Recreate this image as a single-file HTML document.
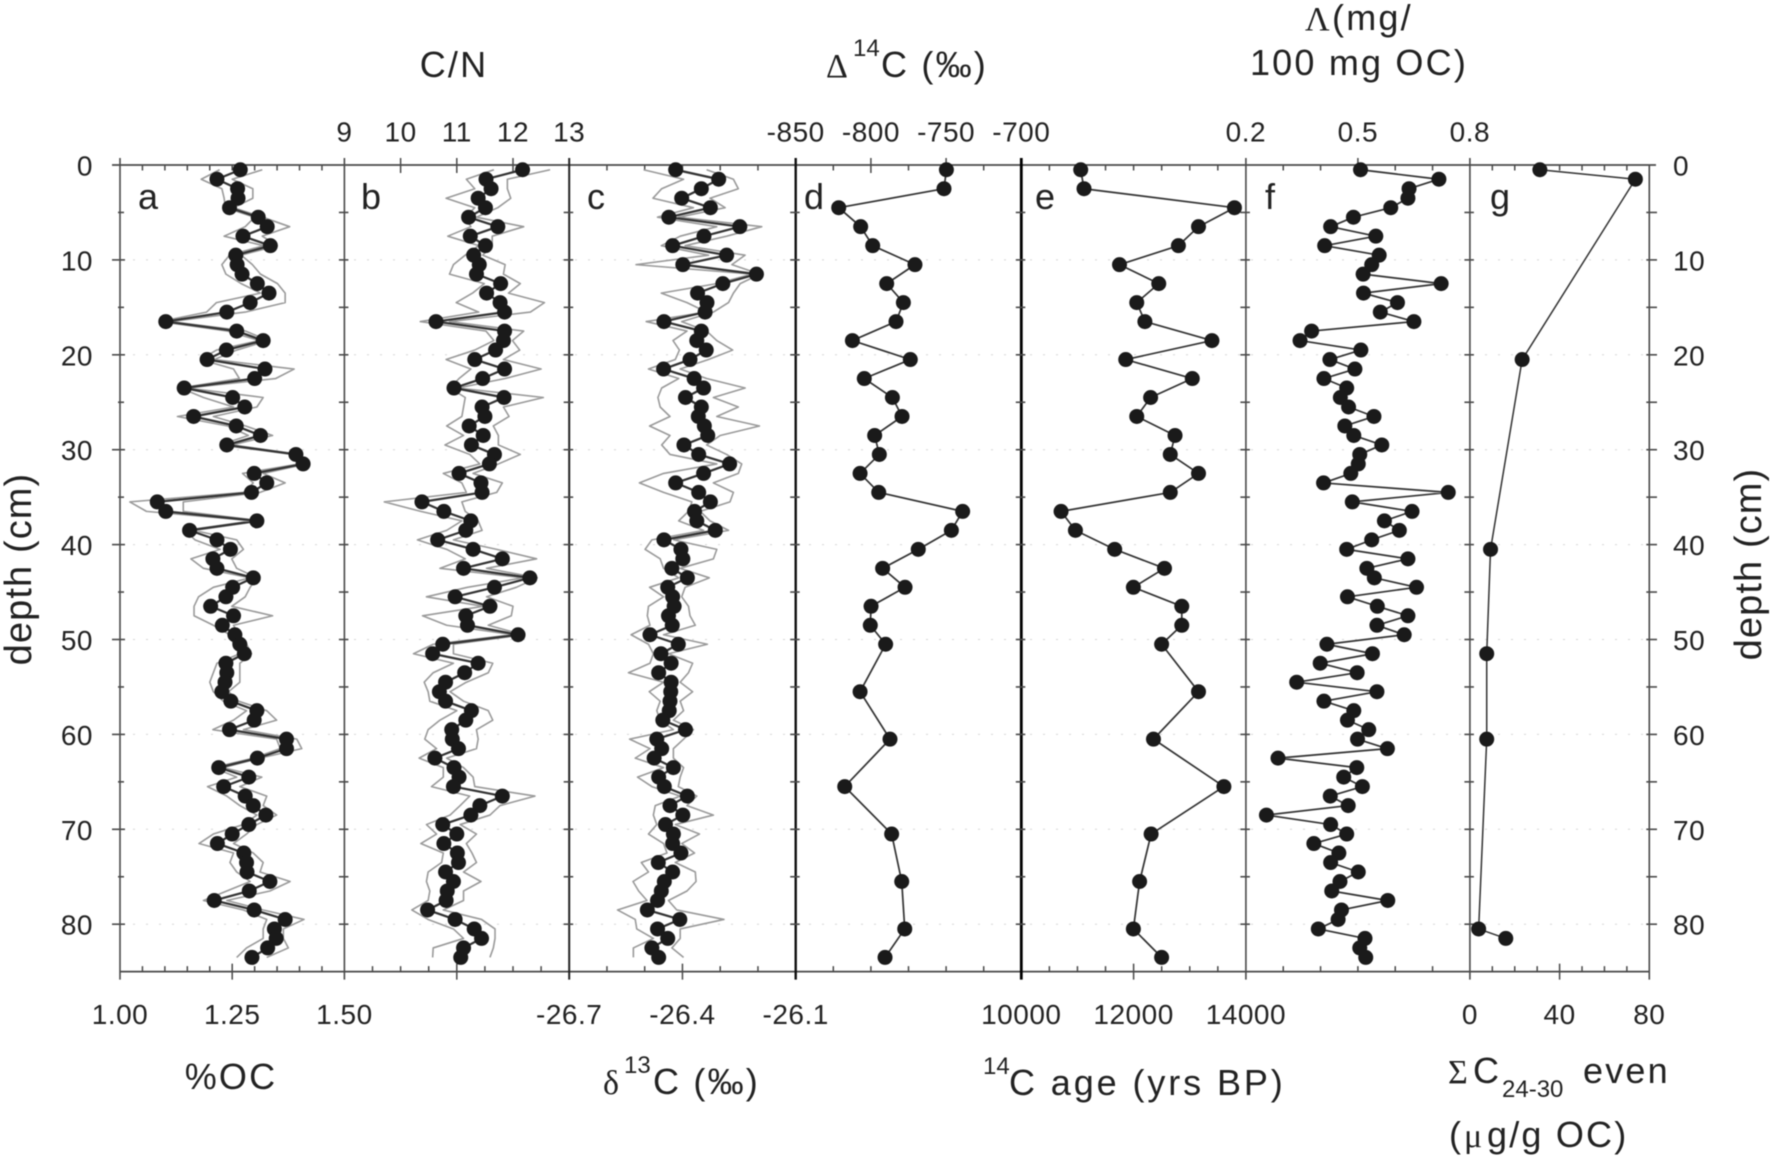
<!DOCTYPE html>
<html lang="en">
<head>
<meta charset="utf-8">
<title>Sediment core depth profiles</title>
<style>
  html, body { margin: 0; padding: 0; background: #fff; }
  #chart { display: block; width: 1772px; height: 1160px; filter: blur(0.55px); font-family: "Liberation Sans", sans-serif; fill: #222; }
  .tick-label { font-size: 28px; letter-spacing: 0.5px; }
  .title { font-size: 36px; letter-spacing: 2.2px; }
  .depth-title { font-size: 38px; letter-spacing: 1.1px; }
  .letter { font-size: 36px; }
  .greek { font-family: "Liberation Serif", serif; font-size: 34px; letter-spacing: 0; }
  .sup { font-size: 24px; letter-spacing: 0; }
  .wide { letter-spacing: 2.9px; }
</style>
</head>
<body>
<svg id="chart" xmlns="http://www.w3.org/2000/svg" width="1772" height="1160" viewBox="0 0 1772 1160">
  <g id="grid"></g>
  <g id="axes"></g>
  <g id="series"></g>
  <g id="labels"></g>

  <text class="letter" x="138" y="209">a</text>
  <text class="letter" x="361" y="209">b</text>
  <text class="letter" x="587" y="209">c</text>
  <text class="letter" x="804" y="209">d</text>
  <text class="letter" x="1035" y="209">e</text>
  <text class="letter" x="1265" y="209">f</text>
  <text class="letter" x="1490" y="209">g</text>

  <text class="title" x="454" y="77" text-anchor="middle">C/N</text>
  <text class="title" y="77"><tspan class="greek" x="826">Δ</tspan><tspan class="sup" x="853" dy="-21">14</tspan><tspan x="881" dy="21">C (‰)</tspan></text>
  <text class="title" y="30"><tspan class="greek" x="1305">Λ</tspan><tspan x="1332">(mg/</tspan></text>
  <text class="title" x="1359" y="75" text-anchor="middle">100 mg OC)</text>
  <text class="title" x="231" y="1089" text-anchor="middle">%OC</text>
  <text class="title" y="1094"><tspan class="greek" x="603">δ</tspan><tspan class="sup" x="624" dy="-21">13</tspan><tspan x="653" dy="21">C (‰)</tspan></text>
  <text class="title" y="1095"><tspan class="sup" x="983" dy="-21">14</tspan><tspan class="wide" x="1009" dy="21">C age (yrs BP)</tspan></text>
  <text class="title" y="1083"><tspan class="greek" x="1448">Σ</tspan><tspan x="1473">C</tspan><tspan class="sup" x="1502" dy="14">24-30</tspan><tspan x="1583" dy="-14">even</tspan></text>
  <text class="title" y="1147"><tspan x="1449">(</tspan><tspan class="greek" x="1464">μ</tspan><tspan x="1487">g/g OC)</tspan></text>

  <text class="depth-title" transform="translate(31,569) rotate(-90)" text-anchor="middle">depth (cm)</text>
  <text class="depth-title" transform="translate(1761,564) rotate(-90)" text-anchor="middle">depth (cm)</text>
</svg>

<script>
const depthFine = [0.5,1.5,2.5,3.5,4.5,5.5,6.5,7.5,8.5,9.5,10.5,11.5,12.5,13.5,14.5,15.5,16.5,17.5,18.5,19.5,20.5,21.5,22.5,23.5,24.5,25.5,26.5,27.5,28.5,29.5,30.5,31.5,32.5,33.5,34.5,35.5,36.5,37.5,38.5,39.5,40.5,41.5,42.5,43.5,44.5,45.5,46.5,47.5,48.5,49.5,50.5,51.5,52.5,53.5,54.5,55.5,56.5,57.5,58.5,59.5,60.5,61.5,62.5,63.5,64.5,65.5,66.5,67.5,68.5,69.5,70.5,71.5,72.5,73.5,74.5,75.5,76.5,77.5,78.5,79.5,80.5,81.5,82.5,83.5];
const depthCoarse = [0.5,2.5,4.5,6.5,8.5,10.5,12.5,14.5,16.5,18.5,20.5,22.5,24.5,26.5,28.5,30.5,32.5,34.5,36.5,38.5,40.5,42.5,44.5,46.5,48.5,50.5,55.5,60.5,65.5,70.5,75.5,80.5,83.5];
const depthLipid = [0.5,1.5,20.5,40.5,51.5,60.5,80.5,81.5];

const ocMean = [1.268,1.216,1.262,1.263,1.244,1.308,1.328,1.274,1.335,1.258,1.261,1.272,1.306,1.332,1.290,1.238,1.102,1.260,1.319,1.237,1.194,1.323,1.300,1.143,1.251,1.278,1.164,1.259,1.313,1.238,1.392,1.408,1.299,1.327,1.293,1.083,1.102,1.305,1.155,1.216,1.246,1.207,1.216,1.297,1.251,1.236,1.202,1.253,1.228,1.256,1.267,1.277,1.236,1.238,1.234,1.227,1.247,1.305,1.299,1.244,1.371,1.371,1.306,1.220,1.287,1.231,1.279,1.297,1.325,1.287,1.250,1.217,1.276,1.282,1.283,1.334,1.288,1.210,1.299,1.368,1.344,1.348,1.329,1.294];
const ocRepA = [1.222,1.181,1.227,1.232,1.235,1.30,1.279,1.232,1.32,1.244,1.227,1.236,1.27,1.313,1.215,1.193,1.09,1.24,1.31,1.215,1.18,1.253,1.266,1.135,1.186,1.253,1.128,1.24,1.286,1.223,1.385,1.40,1.273,1.297,1.275,1.022,1.059,1.295,1.145,1.167,1.223,1.158,1.186,1.29,1.208,1.175,1.165,1.165,1.208,1.245,1.253,1.267,1.216,1.208,1.2,1.208,1.23,1.282,1.253,1.207,1.349,1.357,1.297,1.208,1.26,1.195,1.238,1.267,1.305,1.275,1.208,1.176,1.253,1.245,1.26,1.29,1.238,1.186,1.275,1.327,1.319,1.319,1.282,1.26];
const ocRepB = [1.317,1.25,1.296,1.296,1.253,1.318,1.378,1.317,1.35,1.27,1.295,1.313,1.351,1.368,1.368,1.279,1.112,1.28,1.33,1.26,1.21,1.388,1.347,1.15,1.319,1.305,1.208,1.28,1.34,1.249,1.40,1.415,1.319,1.368,1.312,1.141,1.141,1.315,1.165,1.26,1.275,1.249,1.26,1.305,1.29,1.279,1.249,1.34,1.253,1.264,1.282,1.293,1.267,1.267,1.267,1.242,1.264,1.327,1.349,1.275,1.394,1.405,1.312,1.23,1.316,1.267,1.327,1.319,1.349,1.305,1.282,1.253,1.297,1.319,1.312,1.379,1.334,1.238,1.319,1.41,1.364,1.364,1.375,1.327];

const cnMean = [12.17,11.52,11.61,11.38,11.51,11.21,11.73,11.24,11.51,11.30,11.40,11.35,11.78,11.53,11.77,11.85,10.63,11.85,11.83,11.69,11.32,11.85,11.46,10.95,11.84,11.45,11.50,11.22,11.47,11.26,11.67,11.58,11.04,11.43,11.45,10.38,10.77,11.25,11.16,10.66,11.29,11.81,11.12,12.30,11.67,10.97,11.59,11.16,11.19,12.09,10.75,10.57,11.38,11.14,10.80,10.69,10.80,11.26,11.16,10.91,10.92,11.03,10.61,10.95,11.04,10.94,11.81,11.41,11.25,10.75,11.00,10.77,11.01,11.03,10.80,10.94,10.83,10.81,10.48,10.97,11.31,11.44,11.12,11.07];
const cnRepA = [11.66,11.17,11.32,10.81,11.32,11.15,11.25,10.84,11.39,11.15,10.94,10.87,11.49,11.28,10.99,11.39,10.35,11.52,11.66,11.32,10.81,11.25,11.04,10.88,11.15,11.12,11.09,10.82,11.12,10.79,11.23,11.41,10.76,11.09,11.17,9.71,10.36,11.09,10.82,10.30,10.82,11.15,10.70,12.18,11.19,10.46,11.47,10.39,10.82,12.0,10.58,10.23,10.94,10.58,10.42,10.49,10.52,11.0,10.70,10.49,10.43,10.64,10.33,10.76,10.76,10.55,11.23,11.06,10.88,10.46,10.64,10.36,10.76,10.73,10.49,10.46,10.52,10.49,10.20,10.49,10.94,11.12,10.58,10.57];
const cnRepB = [12.66,11.9,11.9,11.96,11.73,11.35,12.19,11.63,11.63,11.46,11.86,11.83,12.13,11.92,12.56,12.31,10.87,12.19,11.99,12.12,11.83,12.50,11.86,11.02,12.54,11.83,11.93,11.65,11.74,11.74,12.13,11.74,11.29,11.81,11.71,11.09,11.15,11.38,11.45,10.94,11.71,12.42,11.53,12.43,12.06,11.53,12.0,11.97,11.56,12.18,10.94,10.94,11.64,11.56,11.17,10.88,11.12,11.56,11.64,11.35,11.38,11.35,10.82,11.12,11.29,11.32,12.39,11.77,11.59,11.06,11.35,11.17,11.27,11.35,11.12,11.43,11.12,11.12,10.76,11.44,11.68,11.68,11.65,11.59];

const d13cMean = [-26.418,-26.304,-26.350,-26.402,-26.326,-26.436,-26.248,-26.343,-26.426,-26.283,-26.399,-26.204,-26.293,-26.360,-26.335,-26.340,-26.449,-26.350,-26.362,-26.337,-26.380,-26.450,-26.369,-26.344,-26.392,-26.350,-26.358,-26.342,-26.333,-26.396,-26.357,-26.275,-26.344,-26.418,-26.357,-26.326,-26.368,-26.362,-26.313,-26.449,-26.404,-26.399,-26.428,-26.387,-26.439,-26.426,-26.422,-26.437,-26.427,-26.486,-26.411,-26.457,-26.430,-26.463,-26.430,-26.431,-26.433,-26.435,-26.452,-26.392,-26.468,-26.455,-26.475,-26.424,-26.463,-26.448,-26.387,-26.433,-26.399,-26.445,-26.424,-26.426,-26.404,-26.464,-26.426,-26.448,-26.456,-26.466,-26.493,-26.407,-26.466,-26.439,-26.481,-26.463];
const d13cRepA = [-26.503,-26.397,-26.455,-26.478,-26.371,-26.466,-26.309,-26.406,-26.456,-26.331,-26.523,-26.216,-26.309,-26.456,-26.388,-26.336,-26.496,-26.388,-26.425,-26.408,-26.419,-26.49,-26.41,-26.455,-26.465,-26.459,-26.433,-26.487,-26.433,-26.455,-26.433,-26.309,-26.45,-26.514,-26.45,-26.375,-26.384,-26.41,-26.344,-26.481,-26.499,-26.459,-26.45,-26.41,-26.487,-26.45,-26.49,-26.493,-26.486,-26.536,-26.49,-26.477,-26.486,-26.543,-26.45,-26.488,-26.459,-26.468,-26.459,-26.424,-26.54,-26.486,-26.525,-26.45,-26.519,-26.481,-26.406,-26.472,-26.477,-26.468,-26.49,-26.45,-26.441,-26.509,-26.49,-26.531,-26.516,-26.494,-26.572,-26.525,-26.521,-26.477,-26.53,-26.53];
const d13cRepB = [-26.336,-26.265,-26.252,-26.327,-26.287,-26.41,-26.19,-26.283,-26.393,-26.234,-26.269,-26.195,-26.247,-26.265,-26.278,-26.318,-26.402,-26.336,-26.309,-26.267,-26.331,-26.406,-26.336,-26.234,-26.318,-26.252,-26.309,-26.196,-26.3,-26.336,-26.283,-26.243,-26.252,-26.318,-26.265,-26.274,-26.353,-26.327,-26.278,-26.423,-26.309,-26.318,-26.406,-26.329,-26.393,-26.402,-26.384,-26.38,-26.366,-26.45,-26.334,-26.437,-26.373,-26.384,-26.406,-26.373,-26.406,-26.397,-26.424,-26.371,-26.397,-26.424,-26.424,-26.397,-26.406,-26.411,-26.362,-26.388,-26.318,-26.419,-26.355,-26.402,-26.368,-26.419,-26.366,-26.364,-26.388,-26.437,-26.415,-26.29,-26.406,-26.406,-26.428,-26.397];

const d14cValues = [-749.8,-751.4,-821.4,-806.8,-798.8,-770.7,-789.5,-778.4,-783.3,-812.3,-773.8,-804.4,-785.7,-779.3,-797.5,-794.4,-807.2,-794.8,-739.0,-746.5,-768.5,-792.2,-777.3,-799.9,-800.4,-790.2,-807.2,-787.3,-817.4,-786.2,-779.5,-777.5,-790.6];
const ageValues = [11058,11117,13796,13156,12798,11749,12448,12056,12201,13395,11860,13045,12303,12056,12738,12653,13156,12653,10708,10964,11663,12550,11996,12858,12858,12499,13156,12354,13608,12312,12107,11996,12499];
const lambdaValues = [0.507,0.717,0.637,0.634,0.588,0.488,0.427,0.548,0.411,0.557,0.537,0.514,0.723,0.515,0.606,0.560,0.650,0.376,0.345,0.508,0.425,0.492,0.409,0.470,0.453,0.475,0.543,0.465,0.489,0.564,0.505,0.501,0.481,0.408,0.742,0.485,0.645,0.571,0.611,0.537,0.470,0.634,0.524,0.544,0.657,0.472,0.552,0.634,0.551,0.624,0.417,0.539,0.399,0.498,0.336,0.551,0.409,0.489,0.472,0.529,0.499,0.579,0.286,0.497,0.462,0.512,0.426,0.474,0.255,0.427,0.470,0.382,0.449,0.427,0.501,0.452,0.430,0.580,0.456,0.447,0.394,0.519,0.505,0.521];
const sumC2430Values = [31.2,73.8,23.3,9.2,7.5,7.5,3.9,16.0];

const depthTickLabels = ['0','10','20','30','40','50','60','70','80'];
const cnTickLabels = ['9','10','11','12','13'];
const d14cTickLabels = ['-850','-800','-750','-700'];
const lambdaTickLabels = ['0.2','0.5','0.8'];
const ocTickLabels = ['1.00','1.25','1.50'];
const d13cTickLabels = ['-26.7','-26.4','-26.1'];
const ageTickLabels = ['10000','12000','14000'];
const sumTickLabels = ['0','40','80'];

const SVGNS = 'http://www.w3.org/2000/svg';
const topY = 165;
const pxPerCm = 9.49;
const bottomDepth = 85;
const depthY = function (d) { return topY + d * pxPerCm; };
const bottomY = depthY(bottomDepth);
const axisColor = '#4a4a4a';

const panels = [
  { id: 'a', left: 120, right: 344.4, min: 1, max: 1.5, step: 0.05, topStep: 0.05, spine: 1.6, spineColor: axisColor, topLabels: [], bottomLabels: ocTickLabels, topMajor: [], bottomMajor: [1.25],
    mean: ocMean, meanDepth: depthFine, reps: [ocRepA, ocRepB], line: 2.2, name: 'percent-oc' },
  { id: 'b', left: 344.4, right: 569.2, min: 9, max: 13, step: 0.5, topStep: 0, spine: 1.6, spineColor: axisColor, topLabels: cnTickLabels, bottomLabels: [], topMajor: [10, 11, 12], bottomMajor: [11],
    mean: cnMean, meanDepth: depthFine, reps: [cnRepA, cnRepB], line: 2.2, name: 'cn-ratio' },
  { id: 'c', left: 569.2, right: 795.7, min: -26.7, max: -26.1, step: 0.1, topStep: 0.1, spine: 2, spineColor: '#222', topLabels: [], bottomLabels: d13cTickLabels, topMajor: [], bottomMajor: [-26.4],
    mean: d13cMean, meanDepth: depthFine, reps: [d13cRepA, d13cRepB], line: 2.2, name: 'delta-13c' },
  { id: 'd', left: 795.7, right: 1021.3, min: -850, max: -700, step: 25, topStep: 25, spine: 2.4, spineColor: '#111', topLabels: d14cTickLabels, bottomLabels: [], topMajor: [-800, -750], bottomMajor: [],
    mean: d14cValues, meanDepth: depthCoarse, reps: [], line: 1.7, name: 'delta-14c' },
  { id: 'e', left: 1021.3, right: 1245.9, min: 10000, max: 14000, step: 500, topStep: 500, spine: 2.8, spineColor: '#000', topLabels: [], bottomLabels: ageTickLabels, topMajor: [], bottomMajor: [12000],
    mean: ageValues, meanDepth: depthCoarse, reps: [], line: 1.7, name: 'c14-age' },
  { id: 'f', left: 1245.9, right: 1469.9, min: 0.2, max: 0.8, step: 0.1, topStep: 0.1, spine: 1.6, spineColor: axisColor, topLabels: lambdaTickLabels, bottomLabels: [], topMajor: [0.5], bottomMajor: [],
    mean: lambdaValues, meanDepth: depthFine, reps: [], line: 1.7, name: 'lambda' },
  { id: 'g', left: 1469.9, right: 1649.3, min: 0, max: 80, step: 10, topStep: 10, spine: 1.6, spineColor: axisColor, topLabels: [], bottomLabels: sumTickLabels, topMajor: [], bottomMajor: [40],
    mean: sumC2430Values, meanDepth: depthLipid, reps: [], line: 1.5, name: 'sum-c24-30' }
];

const gridGroup = document.getElementById('grid');
const axesGroup = document.getElementById('axes');
const seriesGroup = document.getElementById('series');
const labelGroup = document.getElementById('labels');

function drawLine(parent, name, x1, y1, x2, y2, color, width) {
  const el = document.createElementNS(SVGNS, 'line');
  
  
  el.setAttribute('x1', x1);
  el.setAttribute('y1', y1);
  el.setAttribute('x2', x2);
  el.setAttribute('y2', y2);
  el.setAttribute('stroke', color);
  el.setAttribute('stroke-width', width);
  parent.appendChild(el);
  return el;
}

function drawLabel(name, x, y, text, anchor) {
  const el = document.createElementNS(SVGNS, 'text');
  
  
  el.setAttribute('class', 'tick-label');
  el.setAttribute('x', x);
  el.setAttribute('y', y);
  el.setAttribute('text-anchor', anchor);
  el.textContent = text;
  labelGroup.appendChild(el);
}

function drawPolyline(name, xs, ys, color, width) {
  const el = document.createElementNS(SVGNS, 'polyline');
  
  
  el.setAttribute('fill', 'none');
  el.setAttribute('stroke', color);
  el.setAttribute('stroke-width', width);
  el.setAttribute('stroke-linejoin', 'round');
  el.setAttribute('points', xs.map(function (x, i) { return x.toFixed(2) + ',' + ys[i].toFixed(2); }).join(' '));
  seriesGroup.appendChild(el);
}

function drawDot(name, cx, cy) {
  const el = document.createElementNS(SVGNS, 'circle');
  
  
  el.setAttribute('cx', cx);
  el.setAttribute('cy', cy);
  el.setAttribute('r', 7.5);
  el.setAttribute('fill', '#1a1a1a');
  seriesGroup.appendChild(el);
}

function xScale(p) {
  return function (v) { return p.left + (v - p.min) / (p.max - p.min) * (p.right - p.left); };
}

function near(list, v, eps) {
  return list.some(function (m) { return Math.abs(m - v) < eps; });
}

/* gridlines */
for (let d = 10; d <= 80; d += 10) {
  const g = drawLine(gridGroup, 'gridline-depth-' + d, panels[0].left, depthY(d), panels[6].right, depthY(d), '#d6d6d6', 1);
  g.setAttribute('stroke-dasharray', '2 11');
}

/* horizontal axes */
drawLine(axesGroup, 'top-axis-line', 112, topY, 1656, topY, axisColor, 1.8);
drawLine(axesGroup, 'bottom-axis-line', 120, bottomY, 1649.3, bottomY, axisColor, 1.8);

panels.forEach(function (p) {
  const x = xScale(p);
  const eps = p.step / 100;

  drawLine(axesGroup, 'panel-' + p.id + '-left-spine', p.left, topY - 7, p.left, bottomY + 8, p.spineColor, p.spine);
  if (p.id === 'g') {
    drawLine(axesGroup, 'panel-g-right-spine', p.right, topY, p.right, bottomY + 8, axisColor, 1.6);
  }

  /* x ticks */
  const n = Math.round((p.max - p.min) / p.step);
  for (let i = 1; i < n; i++) {
    const v = p.min + i * p.step;
    const onTop = p.topStep > 0;
    if (near(p.topMajor, v, eps)) {
      drawLine(axesGroup, 'panel-' + p.id + '-top-major-tick', x(v), topY - 7, x(v), topY + 8, axisColor, 1.5);
    } else if (onTop) {
      drawLine(axesGroup, 'panel-' + p.id + '-top-minor-tick', x(v), topY, x(v), topY + 5.5, axisColor, 1.5);
    }
    if (near(p.bottomMajor, v, eps)) {
      drawLine(axesGroup, 'panel-' + p.id + '-bottom-major-tick', x(v), bottomY - 8, x(v), bottomY + 8, axisColor, 1.5);
    } else {
      drawLine(axesGroup, 'panel-' + p.id + '-bottom-minor-tick', x(v), bottomY - 5.5, x(v), bottomY, axisColor, 1.5);
    }
  }

  /* y ticks on this panel's left spine */
  for (let d = 5; d <= 80; d += 5) {
    const isTen = d % 10 === 0;
    const leftLen = p.id === 'a' ? (isTen ? 8 : 2) : 5.5;
    const rightLen = p.id === 'a' ? (isTen ? 5 : 4) : 4;
    drawLine(axesGroup, 'panel-' + p.id + '-depth-tick', p.left - leftLen, depthY(d), p.left + rightLen, depthY(d), axisColor, 1.6);
  }

  /* value axis labels */
  p.topLabels.forEach(function (t) {
    drawLabel('panel-' + p.id + '-top-tick-label', x(Number(t)), 141.5, t, 'middle');
  });
  p.bottomLabels.forEach(function (t) {
    drawLabel('panel-' + p.id + '-bottom-tick-label', x(Number(t)), 1024, t, 'middle');
  });

  /* replicate lines */
  p.reps.forEach(function (rep, r) {
    drawPolyline(p.name + '-replicate-' + (r + 1), rep.map(x), p.meanDepth.map(depthY), '#9a9a9a', 1.6);
  });

  /* mean line and dots */
  drawPolyline(p.name + '-line', p.mean.map(x), p.meanDepth.map(depthY), '#333', p.line);
  p.mean.forEach(function (v, i) {
    drawDot(p.name + '-point', x(v), depthY(p.meanDepth[i]));
  });
});

/* right-hand depth ticks */
for (let d = 5; d <= 80; d += 5) {
  drawLine(axesGroup, 'right-depth-tick', 1646.3, depthY(d), 1657, depthY(d), axisColor, 1.6);
}

/* depth labels */
depthTickLabels.forEach(function (t) {
  const d = Number(t);
  drawLabel('left-depth-tick-label', 93, depthY(d) + 10.5, t, 'end');
  drawLabel('right-depth-tick-label', 1673, depthY(d) + 10.5, t, 'start');
});
</script>
</body>
</html>
